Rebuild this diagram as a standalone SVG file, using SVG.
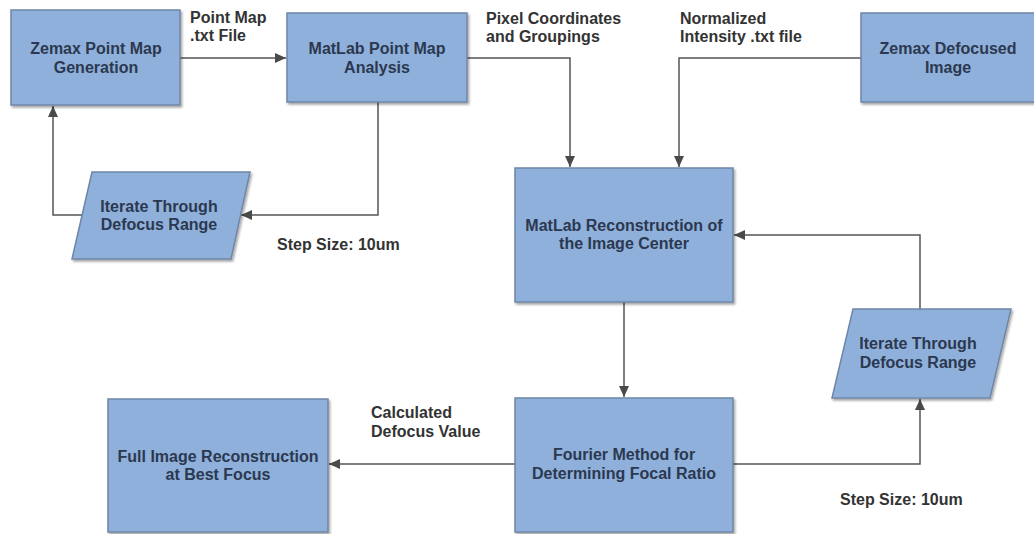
<svg xmlns="http://www.w3.org/2000/svg" width="1034" height="534" viewBox="0 0 1034 534">
<defs>
<marker id="arr" markerUnits="userSpaceOnUse" markerWidth="11" markerHeight="10" refX="11" refY="5" orient="auto">
<path d="M0,0 L11,5 L0,10 z" fill="#4a4a4a"/>
</marker>
<filter id="sh" x="-5%" y="-5%" width="112%" height="115%">
<feDropShadow dx="1.5" dy="2" stdDeviation="1.2" flood-color="#000" flood-opacity="0.35"/>
</filter>
<style>
.box{fill:#8eb0da;stroke:#6f86a6;stroke-width:1.5;filter:url(#sh)}
.nt{font-family:"Liberation Sans",Arial,sans-serif;font-weight:bold;font-size:16px;fill:#2c3850;text-anchor:middle}
.lb{font-family:"Liberation Sans",Arial,sans-serif;font-weight:bold;font-size:16px;fill:#333}
.cn{fill:none;stroke:#555;stroke-width:1.5}
</style>
</defs>
<rect width="1034" height="534" fill="#fff"/>
<g id="connectors">
<path class="cn" d="M180,58 H286" marker-end="url(#arr)"/>
<path class="cn" d="M378,102 V215 H241" marker-end="url(#arr)"/>
<path class="cn" d="M82,215 H53 V106" marker-end="url(#arr)"/>
<path class="cn" d="M467,58 H570 V167" marker-end="url(#arr)"/>
<path class="cn" d="M861,58 H679 V167" marker-end="url(#arr)"/>
<path class="cn" d="M624,302 V397" marker-end="url(#arr)"/>
<path class="cn" d="M733,464 H920 V399" marker-end="url(#arr)"/>
<path class="cn" d="M920,309 V235 H734" marker-end="url(#arr)"/>
<path class="cn" d="M515,464 H329" marker-end="url(#arr)"/>
</g>
<g id="labels">
<text class="lb" x="190" y="23">Point Map</text>
<text class="lb" x="190" y="41">.txt File</text>
<text class="lb" x="486" y="24">Pixel Coordinates</text>
<text class="lb" x="486" y="42">and Groupings</text>
<text class="lb" x="680" y="24">Normalized</text>
<text class="lb" x="680" y="42">Intensity .txt file</text>
<text class="lb" x="277" y="250">Step Size: 10um</text>
<text class="lb" x="371" y="418">Calculated</text>
<text class="lb" x="371" y="437">Defocus Value</text>
<text class="lb" x="840" y="505">Step Size: 10um</text>
</g>
<g id="n1">
<rect class="box" x="11" y="10" width="169" height="95"/>
<text class="nt" x="96" y="54">Zemax Point Map</text>
<text class="nt" x="96" y="73">Generation</text>
</g>
<g id="n2">
<rect class="box" x="287" y="13" width="180" height="89"/>
<text class="nt" x="377" y="54">MatLab Point Map</text>
<text class="nt" x="377" y="73">Analysis</text>
</g>
<g id="n3">
<rect class="box" x="861" y="13" width="175" height="89"/>
<text class="nt" x="948" y="54">Zemax Defocused</text>
<text class="nt" x="948" y="73">Image</text>
</g>
<g id="n4">
<polygon class="box" points="92,172 250,172 231,259 72,259"/>
<text class="nt" x="159" y="212">Iterate Through</text>
<text class="nt" x="159" y="230">Defocus Range</text>
</g>
<g id="n5">
<rect class="box" x="515" y="168" width="218" height="134"/>
<text class="nt" x="624" y="231">MatLab Reconstruction of</text>
<text class="nt" x="624" y="249">the Image Center</text>
</g>
<g id="n6">
<polygon class="box" points="853,309 1011,309 990,398 832,398"/>
<text class="nt" x="918" y="349">Iterate Through</text>
<text class="nt" x="918" y="368">Defocus Range</text>
</g>
<g id="n7">
<rect class="box" x="515" y="398" width="218" height="134"/>
<text class="nt" x="624" y="460">Fourier Method for</text>
<text class="nt" x="624" y="479">Determining Focal Ratio</text>
</g>
<g id="n8">
<rect class="box" x="108" y="399" width="220" height="133"/>
<text class="nt" x="218" y="462">Full Image Reconstruction</text>
<text class="nt" x="218" y="480">at Best Focus</text>
</g>
</svg>
